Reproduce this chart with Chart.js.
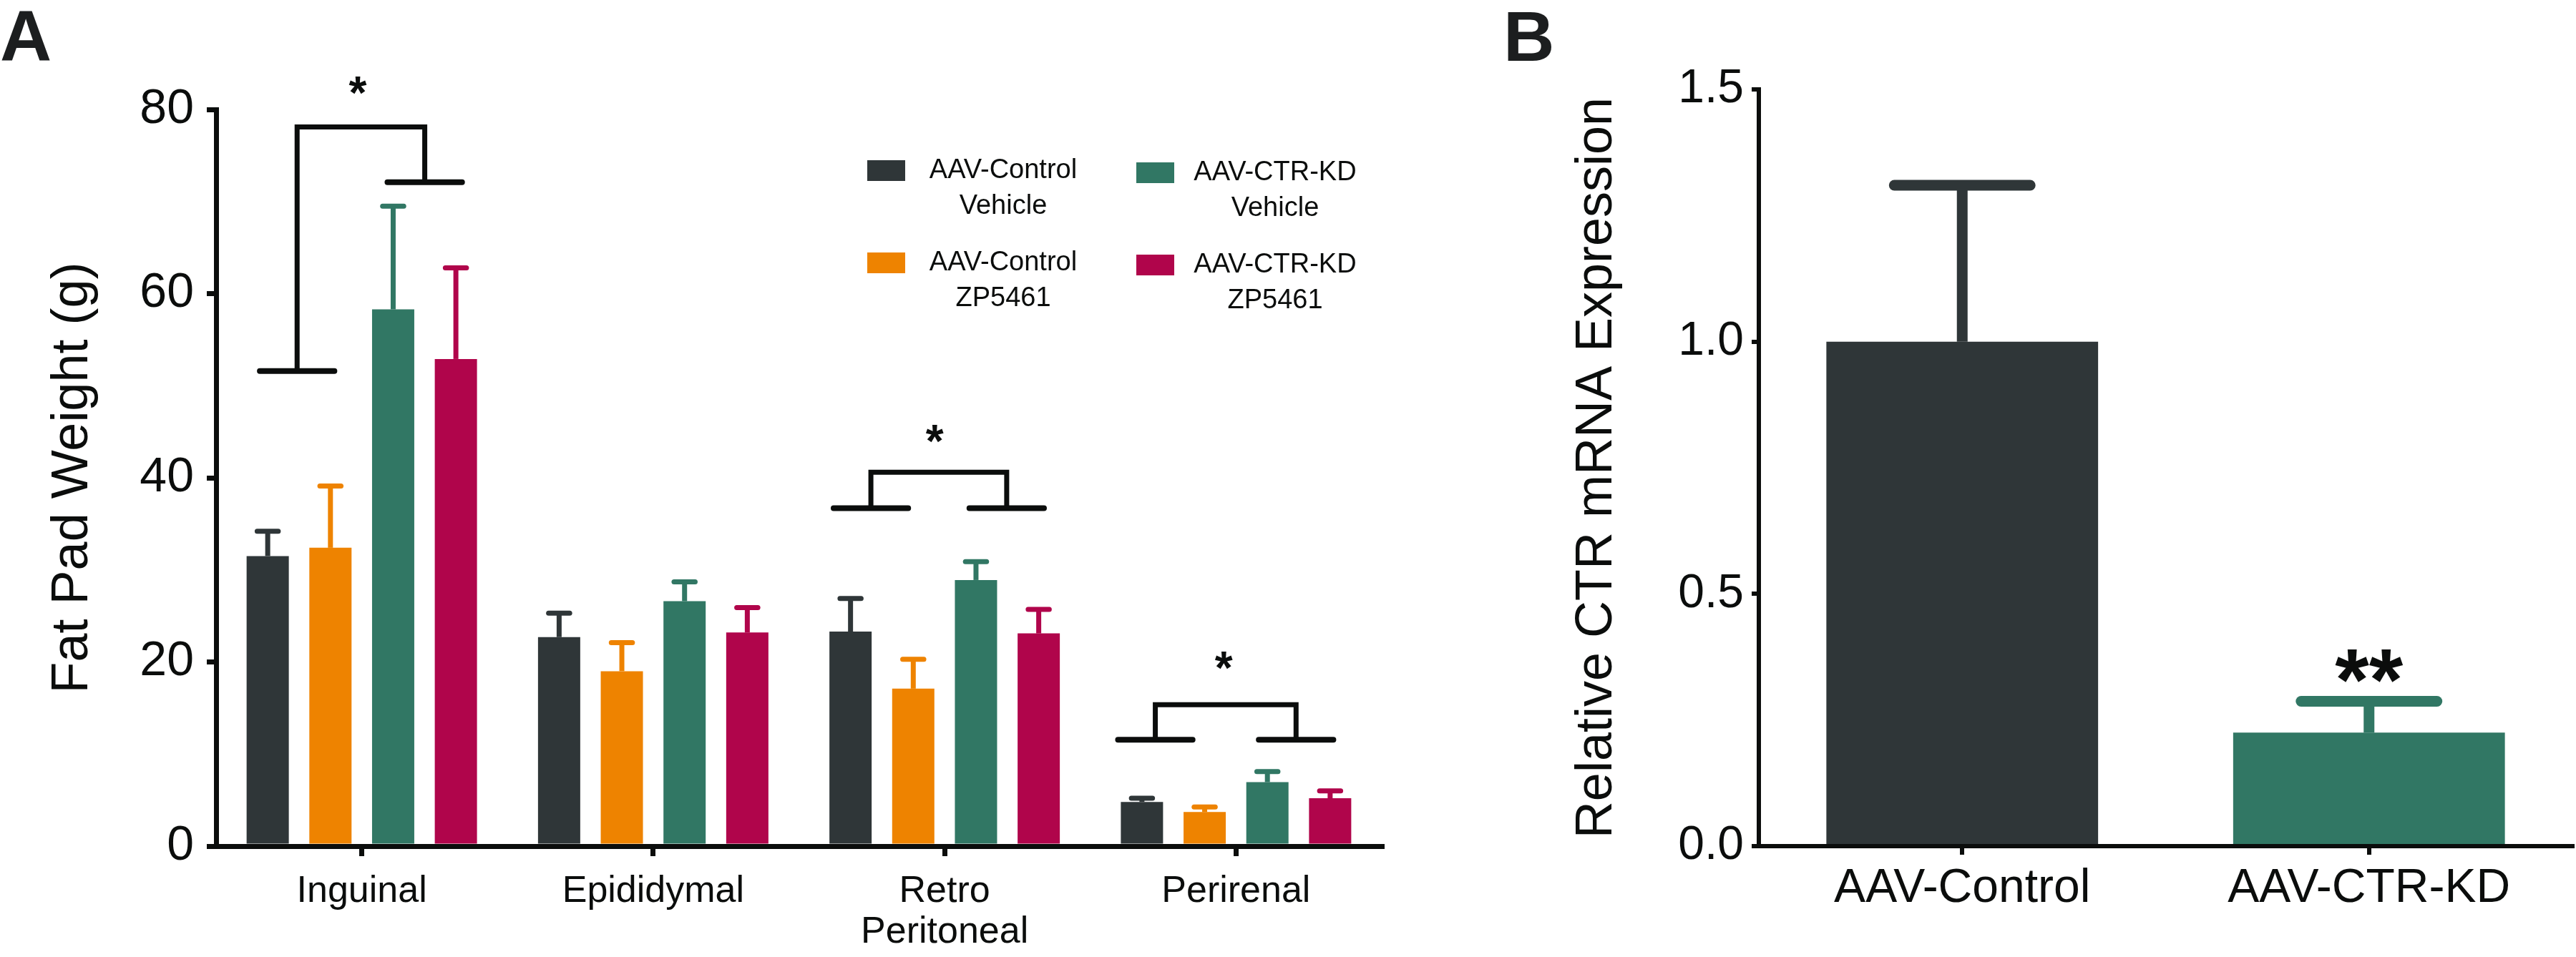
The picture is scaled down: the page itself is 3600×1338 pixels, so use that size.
<!DOCTYPE html>
<html>
<head>
<meta charset="utf-8">
<script src="https://cdn.jsdelivr.net/npm/chart.js@4.4.1/dist/chart.umd.min.js"></script>
<style>
  html, body { margin: 0; padding: 0; background: #fff; }
  body { width: 3600px; height: 1338px; position: relative; overflow: hidden; }
  canvas { position: absolute; top: 0; }
  #fatPadChart { left: 0; }
  #ctrChart { left: 2000px; }
</style>
</head>
<body>
<canvas id="fatPadChart" width="2000" height="1338"></canvas>
<canvas id="ctrChart" width="1600" height="1338"></canvas>
<script>
// Panel A: fat pad weight (g), mean and SEM
const depots = ["Inguinal", "Epididymal", ["Retro", "Peritoneal"], "Perirenal"];
const groupNames = ["AAV-Control\nVehicle", "AAV-Control\nZP5461", "AAV-CTR-KD\nVehicle", "AAV-CTR-KD\nZP5461"];
const controlVehicle = [31.5, 22.7, 23.3, 4.8];
const controlVehicleSem = [2.7, 2.6, 3.6, 0.4];
const controlZp = [32.4, 19.0, 17.1, 3.7];
const controlZpSem = [6.7, 3.1, 3.2, 0.55];
const kdVehicle = [58.3, 26.6, 28.9, 6.95];
const kdVehicleSem = [11.2, 2.1, 2.0, 1.15];
const kdZp = [52.9, 23.2, 23.1, 5.2];
const kdZpSem = [9.9, 2.7, 2.6, 0.8];
const weightTicks = [0, 20, 40, 60, 80];

// significance brackets of panel A (depot index, heights in g)
const bracketDepot = [0, 2, 3];
const bracketTop = [78.1, 40.6, 15.35];
const bracketLeftFoot = [51.6, 36.7, 11.55];
const bracketRightFoot = [72.1, 36.7, 11.55];
const bracketStar = [82.9, 45.0, 20.4];

// Panel B: relative CTR mRNA expression
const kdGroups = ["AAV-Control", "AAV-CTR-KD"];
const ctrExpression = [1.0, 0.225];
const ctrExpressionSem = [0.31, 0.062];
const ctrStars = ["", "**"];
const ctrStarHeight = [0, 0.367];
const expressionTicks = [0, 0.5, 1.0, 1.5];

const INK = "#0b0d0c";
const groupColors = ["#2f3638", "#ee8300", "#317764", "#b0054b"];
const FONT = "'Liberation Sans', Arial, Helvetica, sans-serif";

Chart.defaults.font.family = FONT;
Chart.defaults.color = INK;

// upward-only SEM bars with rounded caps
const errorBars = {
  id: "errorBars",
  afterDatasetsDraw(chart, args, opts) {
    const ctx = chart.ctx;
    const y = chart.scales.y;
    chart.data.datasets.forEach((ds, i) => {
      chart.getDatasetMeta(i).data.forEach((bar, j) => {
        const top = y.getPixelForValue(ds.data[j] + ds.errors[j]);
        const half = bar.width * 0.25;
        ctx.save();
        ctx.strokeStyle = Array.isArray(ds.backgroundColor) ? ds.backgroundColor[j] : ds.backgroundColor;
        ctx.lineWidth = opts.width;
        ctx.lineCap = "butt";
        ctx.beginPath();
        ctx.moveTo(bar.x, bar.y);
        ctx.lineTo(bar.x, top);
        ctx.stroke();
        ctx.lineCap = "round";
        ctx.beginPath();
        ctx.moveTo(bar.x - half, top);
        ctx.lineTo(bar.x + half, top);
        ctx.stroke();
        ctx.restore();
      });
    });
  }
};

const panelLetter = {
  id: "panelLetter",
  afterDraw(chart, args, opts) {
    const ctx = chart.ctx;
    ctx.save();
    ctx.font = "bold " + opts.size + "px " + FONT;
    ctx.fillStyle = "#1c1e1f";
    ctx.textAlign = "left";
    ctx.textBaseline = "alphabetic";
    ctx.fillText(opts.text, opts.x, opts.y);
    ctx.restore();
  }
};

const brackets = {
  id: "brackets",
  afterDatasetsDraw(chart, args, opts) {
    const { ctx, scales: { x, y } } = chart;
    const step = x.getPixelForValue(1) - x.getPixelForValue(0);
    ctx.save();
    ctx.strokeStyle = INK;
    ctx.fillStyle = INK;
    bracketDepot.forEach((cat, i) => {
      const c = x.getPixelForValue(cat);
      const lx = c + opts.left[i] * step;
      const rx = c + opts.right[i] * step;
      const top = y.getPixelForValue(bracketTop[i]);
      const lf = y.getPixelForValue(bracketLeftFoot[i]);
      const rf = y.getPixelForValue(bracketRightFoot[i]);
      ctx.lineWidth = 7;
      ctx.lineCap = "butt";
      ctx.lineJoin = "miter";
      ctx.beginPath();
      ctx.moveTo(lx, lf);
      ctx.lineTo(lx, top);
      ctx.lineTo(rx, top);
      ctx.lineTo(rx, rf);
      ctx.stroke();
      const half = opts.foot * step;
      ctx.lineWidth = 8;
      ctx.lineCap = "round";
      ctx.beginPath();
      ctx.moveTo(lx - half, lf);
      ctx.lineTo(lx + half, lf);
      ctx.moveTo(rx - half, rf);
      ctx.lineTo(rx + half, rf);
      ctx.stroke();
      ctx.font = "bold 64px " + FONT;
      ctx.textAlign = "center";
      ctx.textBaseline = "alphabetic";
      ctx.fillText("*", c + opts.star[i] * step, y.getPixelForValue(bracketStar[i]) + 0.56 * 64);
    });
    ctx.restore();
  }
};

// 2 x 2 legend with two-line, centred labels
const fatPadLegend = {
  id: "fatPadLegend",
  afterDraw(chart) {
    const ctx = chart.ctx;
    ctx.save();
    ctx.font = "38px " + FONT;
    ctx.textAlign = "center";
    ctx.textBaseline = "middle";
    chart.data.datasets.forEach((ds, i) => {
      const col = Math.floor(i / 2), row = i % 2;
      const boxX = 1212 + col * 376;
      const boxY = 224 + row * 129 + col * 3;
      ctx.fillStyle = ds.backgroundColor;
      ctx.fillRect(boxX, boxY, 53, 29);
      ctx.fillStyle = INK;
      ds.label.split("\n").forEach((line, k) => {
        ctx.fillText(line, 1402 + col * 380, boxY + 15 + k * 50);
      });
    });
    ctx.restore();
  }
};

const starLabels = {
  id: "starLabels",
  afterDatasetsDraw(chart) {
    const { ctx, scales: { x, y } } = chart;
    ctx.save();
    ctx.font = "bold 122px " + FONT;
    ctx.fillStyle = INK;
    ctx.textAlign = "center";
    ctx.textBaseline = "alphabetic";
    ctrStars.forEach((s, i) => {
      if (s) ctx.fillText(s, x.getPixelForValue(i), y.getPixelForValue(ctrStarHeight[i]) + 0.56 * 122);
    });
    ctx.restore();
  }
};

function fixedTicks(values) {
  return scale => { scale.ticks = values.map(v => ({ value: v })); };
}

const fatPadSeries = [controlVehicle, controlZp, kdVehicle, kdZp];
const fatPadSems = [controlVehicleSem, controlZpSem, kdVehicleSem, kdZpSem];

new Chart(document.getElementById("fatPadChart"), {
  type: "bar",
  data: {
    labels: depots,
    datasets: fatPadSeries.map((values, i) => ({
      label: groupNames[i],
      data: values,
      errors: fatPadSems[i],
      backgroundColor: groupColors[i],
      borderWidth: 0,
      categoryPercentage: 0.861,
      barPercentage: 0.673
    }))
  },
  options: {
    responsive: false,
    animation: false,
    layout: { padding: { left: 0, top: 153, right: 69, bottom: 0 } },
    scales: {
      x: {
        grid: { display: true, drawOnChartArea: false, offset: false, color: INK, tickLength: 14, tickWidth: 7, lineWidth: 7 },
        border: { display: true, color: INK, width: 7, z: 1 },
        ticks: { font: { size: 52, lineHeight: 1.1 }, color: INK, padding: 21, maxRotation: 0 },
        afterFit: scale => { scale.height = 155; }
      },
      y: {
        min: 0,
        max: 80,
        afterBuildTicks: fixedTicks(weightTicks),
        grid: { display: true, drawOnChartArea: false, color: INK, tickLength: 13, tickWidth: 7, lineWidth: 7 },
        border: { display: true, color: INK, width: 7 },
        ticks: { font: { size: 68 }, color: INK, padding: 18 },
        title: { display: true, text: "Fat Pad Weight (g)", font: { size: 72 }, color: INK, padding: { top: 59, bottom: 0 } },
        afterFit: scale => { scale.width = 302; }
      }
    },
    plugins: {
      legend: { display: false },
      tooltip: { enabled: false },
      errorBars: { width: 7 },
      panelLetter: { text: "A", x: 0, y: 85, size: 100 },
      brackets: {
        left: [-0.222, -0.253, -0.277],
        right: [0.216, 0.213, 0.206],
        star: [-0.014, -0.034, -0.042],
        foot: 0.128
      }
    }
  },
  plugins: [errorBars, brackets, fatPadLegend, panelLetter]
});

new Chart(document.getElementById("ctrChart"), {
  type: "bar",
  data: {
    labels: kdGroups,
    datasets: [{
      label: "Relative CTR mRNA Expression",
      data: ctrExpression,
      errors: ctrExpressionSem,
      backgroundColor: [groupColors[0], groupColors[2]],
      borderWidth: 0,
      categoryPercentage: 1,
      barPercentage: 0.668
    }]
  },
  options: {
    responsive: false,
    animation: false,
    layout: { padding: { left: 0, top: 125, right: 5, bottom: 0 } },
    scales: {
      x: {
        grid: { display: true, drawOnChartArea: false, offset: false, color: INK, tickLength: 12, tickWidth: 6, lineWidth: 6 },
        border: { display: true, color: INK, width: 6, z: 1 },
        ticks: { font: { size: 66 }, color: INK, padding: 8, maxRotation: 0 },
        afterFit: scale => { scale.height = 155; }
      },
      y: {
        min: 0,
        max: 1.5,
        afterBuildTicks: fixedTicks(expressionTicks),
        grid: { display: true, drawOnChartArea: false, color: INK, tickLength: 10, tickWidth: 6, lineWidth: 6 },
        border: { display: true, color: INK, width: 6 },
        ticks: { font: { size: 66 }, color: INK, padding: 11, callback: v => v.toFixed(1) },
        title: { display: true, text: "Relative CTR mRNA Expression", font: { size: 72 }, color: INK, padding: { top: 189, bottom: 0 } },
        afterFit: scale => { scale.width = 458; }
      }
    },
    plugins: {
      legend: { display: false },
      tooltip: { enabled: false },
      errorBars: { width: 15 },
      panelLetter: { text: "B", x: 101, y: 85, size: 99 }
    }
  },
  plugins: [errorBars, starLabels, panelLetter]
});
</script>
</body>
</html>
